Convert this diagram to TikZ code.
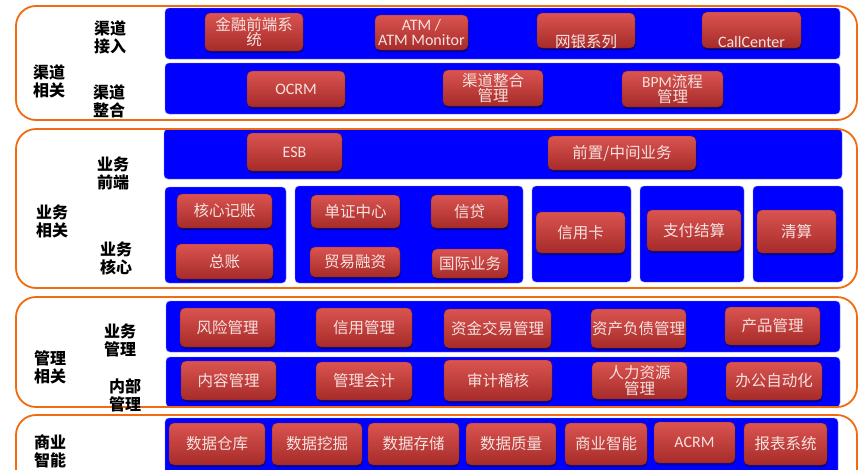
\documentclass[tikz,border=0pt]{standalone}
\usepackage{fontspec}
\setmainfont{Carlito}
\newfontfamily\cjk{Noto Sans CJK SC}
\newfontfamily\lat{Carlito}
\usetikzlibrary{shadows}
\definecolor{frameor}{HTML}{F26B10}
\definecolor{pblue}{HTML}{0000FF}
\definecolor{pedge}{HTML}{8080FF}
\definecolor{btntop}{HTML}{DA5450}
\definecolor{btnbot}{HTML}{A62B29}
\definecolor{btnedge}{HTML}{8A2020}
\definecolor{btntxt}{HTML}{F6E2E0}
\tikzset{
  x=1pt, y=-1pt,
  btn/.style={rounded corners=5pt, top color=btntop, bottom color=btnbot,
    draw=btnedge, line width=0.4pt, text=btntxt, align=center, inner sep=0pt,
    font=\cjk\fontsize{15.5}{14}\selectfont,
    drop shadow={shadow xshift=0.6pt, shadow yshift=-2pt, opacity=0.45, fill=black}},
  latbtn/.style={btn, font=\lat\fontsize{16}{15}\selectfont},
  panel/.style={rounded corners=4pt, fill=pblue, draw=pedge, line width=0.4pt, inner sep=0pt},
  frm/.style={rounded corners=20pt, draw=frameor, line width=1.8pt, inner sep=0pt},
  lab/.style={font=\cjk\bfseries\fontsize{16}{18}\selectfont, align=center, inner sep=0pt, text=black}
}
\newcommand\mybtn[7][btn]{\node[#1,minimum width={#5pt-#3pt},minimum height={#6pt-#4pt}] (#2) at ({(#3+#5)/2},{(#4+#6)/2}) {#7};}
\newcommand\mypanel[6][panel]{\node[#1,minimum width={#5pt-#3pt},minimum height={#6pt-#4pt}] (#2) at ({(#3+#5)/2},{(#4+#6)/2}) {};}
\newcommand\mylab[4]{\node[lab] (#1) at (#2,#3) {#4};}
\begin{document}
\begin{tikzpicture}
\useasboundingbox (0,0) rectangle (859,469);
\clip (0,0) rectangle (859,469);
\fill[white] (0,0) rectangle (859,469);
% panels
\mypanel{p1}{165}{8}{840}{59}
\mypanel{p2}{165}{63}{840}{114}
\mypanel{p3}{164}{129}{842}{179}
\mypanel{p4a}{165}{187}{286}{283}
\mypanel{p4b}{295}{186}{523}{283}
\mypanel{p4c}{532}{186}{631}{282}
\mypanel{p4d}{640}{186}{744}{282}
\mypanel{p4e}{753}{186}{843}{282}
\mypanel{p5}{166}{301}{840}{352}
\mypanel{p6}{166}{357}{840}{407}
\mypanel{p7}{165}{418}{838}{485}
% frames
\mypanel[frm]{f1}{16}{6}{857}{120}
\mypanel[frm]{f2}{16}{129}{857}{288}
\mypanel[frm]{f3}{16}{297}{857}{407}
\mypanel[frm]{f4}{16}{415}{857}{500}
% labels
\mylab{l1}{110}{37}{渠道\\接入}
\mylab{l2}{49}{81}{渠道\\相关}
\mylab{l3}{109}{101.5}{渠道\\整合}
\mylab{l4}{113}{173.5}{业务\\前端}
\mylab{l5}{52}{221}{业务\\相关}
\mylab{l6}{116}{258.5}{业务\\核心}
\mylab{l7}{120}{340.5}{业务\\管理}
\mylab{l8}{50}{367}{管理\\相关}
\mylab{l9}{125}{395}{内部\\管理}
\mylab{l10}{50}{451.5}{商业\\智能}
% row 1
\mybtn{b11}{205}{13}{303}{51}{金融前端系\\统}
\mybtn[latbtn]{b12}{375}{15}{468}{50}{ATM /\\ATM Monitor}
\mybtn{b13}{537}{13}{635}{48}{\raisebox{-17pt}[0pt][0pt]{网银系列}}
\mybtn[latbtn]{b14}{702}{12}{801}{48}{\raisebox{-17pt}[0pt][0pt]{CallCenter}}
% row 2
\mybtn[latbtn]{b21}{247}{71}{345}{107}{OCRM}
\mybtn{b22}{443}{70}{543}{106}{渠道整合\\管理}
\mybtn{b23}{622}{71}{723}{107}{{\lat BPM}流程\\管理}
% row 3
\mybtn[latbtn]{b31}{247}{133}{342}{171}{ESB}
\mybtn{b32}{548}{136}{696}{170}{前置/中间业务}
% row 4
\mybtn{b41}{177}{194}{272}{228}{核心记账}
\mybtn{b42}{176}{244}{273}{279}{总账}
\mybtn{b43}{311}{195}{400}{228}{单证中心}
\mybtn{b44}{310}{247}{400}{277}{贸易融资}
\mybtn{b45}{431}{195}{508}{228}{信贷}
\mybtn{b46}{432}{249}{508}{278}{国际业务}
\mybtn{b47}{536}{212}{625}{253}{信用卡}
\mybtn{b48}{647}{210}{741}{251}{支付结算}
\mybtn{b49}{757}{210}{836}{253}{清算}
% row 5
\mybtn{b51}{180}{308}{275}{347}{风险管理}
\mybtn{b52}{316}{308}{412}{347}{信用管理}
\mybtn{b53}{444}{309}{551}{348}{资金交易管理}
\mybtn{b54}{591}{309}{686}{348}{资产负债管理}
\mybtn{b55}{725}{307}{820}{345}{产品管理}
% row 6
\mybtn{b61}{181}{361}{276}{400}{内容管理}
\mybtn{b62}{316}{362}{412}{400}{管理会计}
\mybtn{b63}{444}{360}{552}{401}{审计稽核}
\mybtn{b64}{592}{362}{687}{399}{人力资源\\管理}
\mybtn{b65}{726}{362}{822}{400}{办公自动化}
% row 7
\mybtn{b71}{169}{423}{265}{465}{数据仓库}
\mybtn{b72}{272}{423}{362}{465}{数据挖掘}
\mybtn{b73}{368}{423}{459}{465}{数据存储}
\mybtn{b74}{466}{423}{556}{465}{数据质量}
\mybtn{b75}{565}{423}{647}{465}{商业智能}
\mybtn[latbtn]{b76}{654}{422}{735}{463}{ACRM}
\mybtn{b77}{744}{423}{827}{465}{报表系统}
\end{tikzpicture}
\end{document}
